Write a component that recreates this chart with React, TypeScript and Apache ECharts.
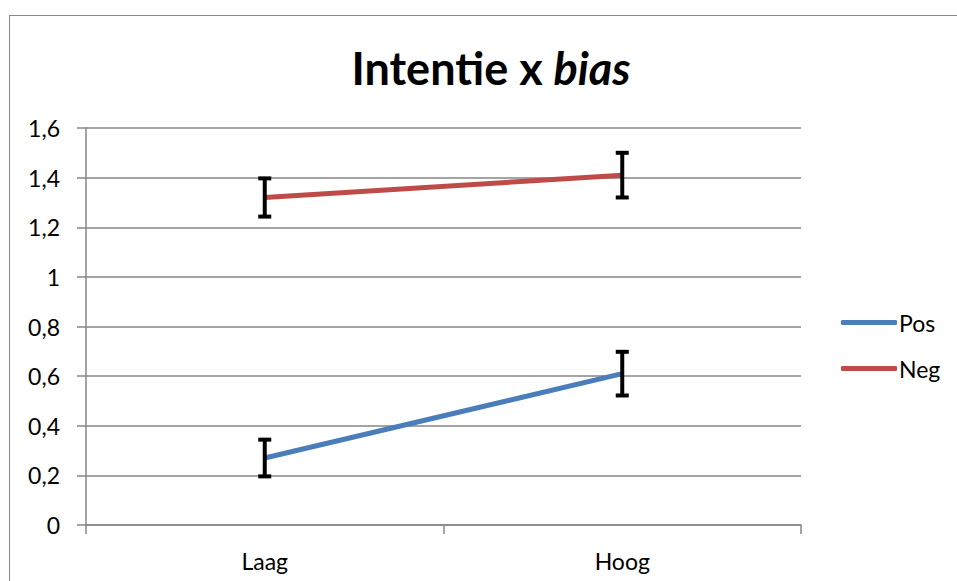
import React, { useEffect, useRef } from "react";
import * as echarts from "echarts";

const categories = ["Laag", "Hoog"];
const posValues = [0.27, 0.61];
const posErrors = [0.074, 0.088];
const negValues = [1.32, 1.41];
const negErrors = [0.077, 0.09];
const yTicks = { min: 0, max: 1.6, interval: 0.2 };

const FONT = "Lato";

function errorSeries(name: string, values: number[], errors: number[]) {
  return {
    name: name + "-err",
    type: "custom",
    z: 10,
    silent: true,
    data: values.map((v, i) => [i, v - errors[i], v + errors[i]]),
    renderItem: (params: any, api: any) => {
      const x = api.value(0);
      const lo = api.coord([x, api.value(1)]);
      const hi = api.coord([x, api.value(2)]);
      const cap = 6.5;
      const style = { stroke: "#000", lineWidth: 4 };
      return {
        type: "group",
        children: [
          { type: "line", shape: { x1: lo[0], y1: lo[1], x2: hi[0], y2: hi[1] }, style },
          { type: "line", shape: { x1: hi[0] - cap, y1: hi[1], x2: hi[0] + cap, y2: hi[1] }, style },
          { type: "line", shape: { x1: lo[0] - cap, y1: lo[1], x2: lo[0] + cap, y2: lo[1] }, style },
        ],
      };
    },
  };
}

export default function App() {
  const ref = useRef<HTMLDivElement>(null);
  useEffect(() => {
    const chart = echarts.init(ref.current!, null, { renderer: "svg" });
    chart.setOption({
      animation: false,
      backgroundColor: "transparent",
      title: {
        text: "{b|Intentie x }{i|bias}",
        left: 486,
        top: 40,
        textAlign: "center",
        textStyle: {
          rich: {
            b: { fontFamily: FONT, fontWeight: "bold", fontSize: 45, color: "#000" },
            i: { fontFamily: FONT, fontWeight: "bold", fontStyle: "italic", fontSize: 45, color: "#000" },
          },
        },
      },
      legend: {
        orient: "vertical",
        left: 841,
        top: 311,
        padding: 0,
        itemWidth: 56,
        itemHeight: 5,
        itemGap: 23,
        icon: "roundRect",
        data: ["Pos", "Neg"],
        textStyle: { fontFamily: FONT, fontSize: 23, color: "#000", padding: [0, 0, 0, -3] },
      },
      grid: { left: 86, right: 156, top: 128, bottom: 56 },
      xAxis: {
        type: "category",
        data: categories,
        boundaryGap: true,
        axisLine: { lineStyle: { color: "#868686", width: 1.5 } },
        axisTick: { show: true, length: 9, interval: 0, lineStyle: { color: "#868686", width: 1.5 } },
        axisLabel: { fontFamily: FONT, fontSize: 23, color: "#000", margin: 24 },
      },
      yAxis: {
        type: "value",
        min: yTicks.min,
        max: yTicks.max,
        interval: yTicks.interval,
        axisLine: { show: true, lineStyle: { color: "#868686", width: 1.5 } },
        axisTick: { show: true, length: 9, lineStyle: { color: "#868686", width: 1.5 } },
        splitLine: { lineStyle: { color: "#868686", width: 1.5 } },
        axisLabel: {
          fontFamily: FONT,
          fontSize: 23,
          color: "#000",
          margin: 26,
          formatter: (v: number) => String(Math.round(v * 10) / 10).replace(".", ","),
        },
      },
      series: [
        {
          name: "Pos",
          type: "line",
          data: posValues,
          showSymbol: false,
          symbol: "none",
          lineStyle: { color: "#4A7EBB", width: 5 },
          itemStyle: { color: "#4A7EBB" },
          z: 5,
        },
        {
          name: "Neg",
          type: "line",
          data: negValues,
          showSymbol: false,
          symbol: "none",
          lineStyle: { color: "#BE4B48", width: 5 },
          itemStyle: { color: "#BE4B48" },
          z: 5,
        },
        errorSeries("Pos", posValues, posErrors),
        errorSeries("Neg", negValues, negErrors),
      ],
    });
    return () => chart.dispose();
  }, []);
  return (
    <div
      style={{
        position: "absolute",
        left: 0,
        top: 0,
        width: 957,
        height: 581,
        overflow: "hidden",
        background: "#fff",
      }}
    >
      <div
        style={{
          position: "absolute",
          left: 9,
          top: 15,
          width: 2000,
          height: 2000,
          borderTop: "1.5px solid #8a8a8a",
          borderLeft: "1.5px solid #8a8a8a",
        }}
      />
      <div
        ref={ref}
        style={{ position: "absolute", left: 0, top: 0, width: 957, height: 581 }}
      />
    </div>
  );
}
